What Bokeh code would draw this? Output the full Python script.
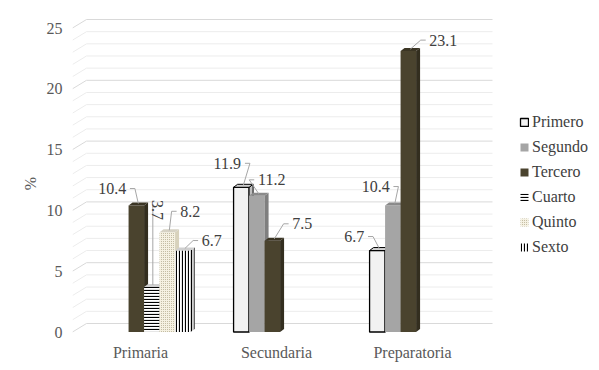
import math
from bokeh.plotting import figure
from bokeh.models import Range1d, FixedTicker
from bokeh.core.properties import value
from bokeh.embed import file_html
from bokeh.resources import INLINE

# ---------------- data ----------------
categories = ["Primaria", "Secundaria", "Preparatoria"]
series = ["Primero", "Segundo", "Tercero", "Cuarto", "Quinto", "Sexto"]
primero = [None, 11.9, 6.7]
segundo = [None, 11.2, 10.4]
tercero = [10.4, 7.5, 23.1]
cuarto = [3.7, None, None]
quinto = [8.2, None, None]
sexto = [6.7, None, None]
values = [primero, segundo, tercero, cuarto, quinto, sexto]
y_ticks = [0, 5, 10, 15, 20, 25]

# ---------------- styles ----------------
FONT = "'Liberation Serif', serif"
FS = "16px"
TXT = "#404040"
AX = "#595959"
styles = [
    dict(fill="#f2f2f2", side="#bfbfbf", top="#d0d0d0", line="#000000", hatch=None),
    dict(fill="#a5a5a5", side="#7f7f7f", top="#8a8a8a", line=None, hatch=None),
    dict(fill="#4a432e", side="#332e1f", top="#3b3524", line=None, hatch=None),
    dict(fill="#ffffff", side="#d0d0d0", top="#cfcfcf", line=None, hatch="-"),
    dict(fill="#f5f1e2", side="#d8d2bc", top="#d6d2c4", line=None, hatch="."),
    dict(fill="#ffffff", side="#d0d0d0", top="#cfcfcf", line=None, hatch="|"),
]
# label offsets from bar top (pixels: right, up); rotated flag
label_off = {
    (2, 0): (-24, 17, False), (3, 0): (6, 77, True), (4, 0): (23, 21, False),
    (5, 0): (29, 10, False), (0, 1): (-14, 24, False), (1, 1): (15, 16, False),
    (2, 1): (30, 17, False), (0, 2): (-23, 14, False), (1, 2): (-17, 19, False),
    (2, 2): (35, 11, False),
}

FW, FH = 519, 326
XR = (-0.5, 3.316)
YR = (-0.37, 26.44)
PXX = FW / (XR[1] - XR[0])
PXY = FH / (YR[1] - YR[0])
sx, sy = 1 / PXX, 1 / PXY
slot = 15.5 * sx
depth_x, depth_y = 14 * sx, 8.5 * sy      # wall depth
bdx, bdy = 4 * sx, 3 * sy                  # bar depth

p = figure(frame_width=FW, frame_height=FH, x_range=Range1d(*XR),
           y_range=Range1d(*YR), output_backend="svg",
           toolbar_location=None, min_border_left=72, min_border_right=0,
           min_border_top=10, min_border_bottom=20)
p.outline_line_color = None
p.xgrid.visible = False
p.ygrid.visible = False
p.background_fill_color = "white"

# 3D gridlines (back wall)
x_left, x_right = -0.5, (492 - 140) / PXX
for g in range(0, 26):
    major = g % 5 == 0
    p.line([x_left, x_left + depth_x, x_right], [g, g + depth_y, g + depth_y],
           line_color="#d9d9d9" if major else "#ececec", line_width=1)

# bars
for j, (name, vals) in enumerate(zip(series, values)):
    st = styles[j]
    xs, tops = [], []
    for k, v in enumerate(vals):
        if v is None:
            continue
        xs.append(k + (j - 2.27) * slot)
        tops.append(v)
    w = slot
    kw = dict(fill_color=st["fill"], line_color=st["line"],
              line_width=1.3 if st["line"] else 0)
    if st["hatch"] in ("-", "|"):
        kw.update(hatch_pattern=st["hatch"], hatch_color="#000000", hatch_scale=3, hatch_weight=1.2)
    elif st["hatch"] == ".":
        kw.update(hatch_pattern=".", hatch_color="#b3ac90", hatch_scale=2, hatch_weight=0.9)
    p.vbar(x=xs, top=tops, width=w, bottom=0, legend_label=name, **kw)
    side_xs, side_ys, top_xs, top_ys = [], [], [], []
    for x, v in zip(xs, tops):
        x0, x1 = x - w / 2, x + w / 2
        side_xs.append([x1, x1 + bdx, x1 + bdx, x1])
        side_ys.append([0, bdy, v + bdy, v])
        top_xs.append([x0, x1, x1 + bdx, x0 + bdx])
        top_ys.append([v, v, v + bdy, v + bdy])
    skw = dict(line_color=st["line"] if st["line"] else None, line_width=1 if st["line"] else 0)
    if st["hatch"] in ("-", "|"):
        skw.update(hatch_pattern=st["hatch"], hatch_color="#000000", hatch_scale=3, hatch_weight=1.2)
    p.patches(side_xs, side_ys, fill_color=st["side"], **skw)
    p.patches(top_xs, top_ys, fill_color=st["top"],
              line_color=st["line"] if st["line"] else None, line_width=1 if st["line"] else 0)

# data labels + leader lines
for (j, k), (dx, dy, rot) in label_off.items():
    v = values[j][k]
    bx = k + (j - 2.27) * slot
    txt = f"{v:.1f}"
    lx, ly = bx + dx * sx, v + dy * sy
    hw = len(txt) * 3.9
    if rot:
        p.line([bx + sx, bx + sx], [v + 2 * sy, ly + 6 * sy], line_color="#a6a6a6", line_width=1)
        p.text(x=[lx], y=[ly], text=[txt], angle=-math.pi / 2, text_align="center",
               text_baseline="middle", text_font=value(FONT), text_font_size=FS, text_color=TXT)
    else:
        sgn = -1 if dx < 0 else 1
        x0 = lx - sgn * (hw + 2) * sx
        x1 = x0 - sgn * 5 * sx
        p.line([x0, x1, bx + 2 * sx], [ly, ly, v + 2 * sy], line_color="#a6a6a6", line_width=1)
        p.text(x=[lx], y=[ly], text=[txt], text_align="center", text_baseline="middle",
               text_font=value(FONT), text_font_size=FS, text_color=TXT)

# axes
p.xaxis.ticker = FixedTicker(ticks=[0, 1, 2])
p.xaxis.major_label_overrides = {i: c for i, c in enumerate(categories)}
p.yaxis.ticker = FixedTicker(ticks=y_ticks)
for ax in (p.xaxis[0], p.yaxis[0]):
    ax.axis_line_color = None
    ax.major_tick_line_color = None
    ax.minor_tick_line_color = None
    ax.major_tick_out = 0
    ax.major_tick_in = 0
    ax.minor_tick_out = 0
    ax.minor_tick_in = 0
    ax.major_label_text_font = FONT
    ax.major_label_text_font_size = FS
    ax.major_label_text_color = AX
p.xaxis.major_label_standoff = 7
p.yaxis.major_label_standoff = 10
p.yaxis.axis_label = "%" + "\u00a0" * 5
p.yaxis.axis_label_text_font = FONT
p.yaxis.axis_label_text_font_size = FS
p.yaxis.axis_label_text_font_style = "normal"
p.yaxis.axis_label_text_color = AX
p.yaxis.axis_label_standoff = 5

# legend
lg = p.legend[0]
lg.location = (447, 79)
lg.padding = 0
lg.margin = 0
lg.border_line_color = None
lg.background_fill_alpha = 0
lg.glyph_width = 10
lg.glyph_height = 10
lg.label_height = 20
lg.spacing = 5
lg.label_standoff = 3
lg.label_text_font = FONT
lg.label_text_font_size = FS
lg.label_text_color = TXT

open("out.html", "w").write(file_html(p, INLINE))
